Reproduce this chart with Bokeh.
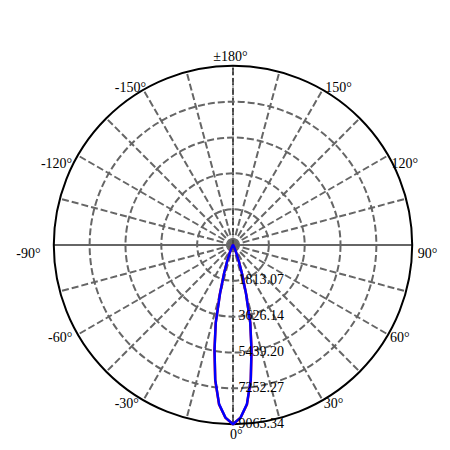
import numpy as np
from bokeh.plotting import figure
from bokeh.models import ColumnDataSource
from bokeh.core.properties import value
from bokeh.embed import file_html
from bokeh.resources import INLINE

# ---- data ----
beam_angles = [0, 2.5, 5, 7.5, 10, 12.5, 15, 17.5, 20, 22.5, 25, 30, 35, 40, 50, 60, 90, 120, 150, 180]
beam_c0 = [9065, 8750, 8100, 6900, 5400, 4050, 2550, 1500, 850, 450, 250, 100, 50, 30, 15, 10, 5, 3, 2, 2]
beam_c90 = [9065, 8740, 8080, 6880, 5380, 4030, 2530, 1490, 840, 440, 245, 100, 50, 30, 15, 10, 5, 3, 2, 2]
ring_values = [1813.07, 3626.14, 5439.20, 7252.27, 9065.34]
ring_labels = ["1813.07", "3626.14", "5439.20", "7252.27", "9065.34"]
label_angles = [0, 30, 60, 90, 120, 150, 180, -150, -120, -90, -60, -30]
label_texts = ["0°", "30°", "60°", "90°", "120°", "150°", "±180°", "-150°", "-120°", "-90°", "-60°", "-30°"]
spoke_angles = list(range(0, 360, 15))

# ---- layout ----
W = H = 446
R_PX = 179.2
CX, CY = 232.5, 244.5
RMAX = ring_values[-1]
s = RMAX / R_PX  # data units per pixel

p = figure(width=W, height=H, output_backend="svg", toolbar_location=None,
           x_range=(-CX * s, (W - CX) * s), y_range=(-(H - CY) * s, CY * s),
           x_axis_location=None, y_axis_location=None, min_border=0,
           background_fill_color="white", border_fill_color="white")
p.grid.visible = False
p.outline_line_color = None


def pol(theta_deg, r):
    t = np.radians(np.asarray(theta_deg, dtype=float))
    r = np.asarray(r, dtype=float)
    return r * np.sin(t), -r * np.cos(t)


# dashed spokes
xs, ys = [], []
for a in spoke_angles:
    if a in (90, 270):
        continue
    x1, y1 = pol(a, RMAX)
    xs.append([0, float(x1)])
    ys.append([0, float(y1)])
p.multi_line(xs, ys, line_color="#666666", line_width=2, line_dash="7 3")
# solid horizontal spoke
hx, hy = pol([-90, 90], [RMAX, RMAX])
p.line(hx, hy, line_color="#666666", line_width=2)
# thin black dashed vertical axis
vx, vy = pol([180, 0], [RMAX, RMAX])
p.line(vx, vy, line_color="black", line_width=1, line_dash="4 2", line_alpha=0.6)

# dashed rings
p.circle(x=[0] * 4, y=[0] * 4, radius=ring_values[:-1], fill_color=None,
         line_color="#666666", line_width=2, line_dash="7 3")
# outer ring
p.circle(x=[0], y=[0], radius=[RMAX], fill_color=None, line_color="black", line_width=2)

# beam curves (mirror)
def full(vals):
    ang = [-a for a in beam_angles[::-1]] + beam_angles[1:]
    v = vals[::-1] + vals[1:]
    return pol(ang, v)

rx, ry = full(beam_c0)
p.line(rx, ry, line_color="red", line_width=2.5)
bx, by = full(beam_c90)
p.line(bx, by, line_color="blue", line_width=2.5)

# angle labels
lx, ly = pol(label_angles, [RMAX] * len(label_angles))
xoff = [3.3, 10.9, 11.6, 15.3, 16.5, 15.9, -2.5, -12.9, -21.3, -25.3, -17.6, -16.6]
yoff = [10.5, 3.3, 2.6, 8.5, 7.8, -2.6, -9.3, -2.6, 7.8, 8.5, 2.6, 3.6]
src = ColumnDataSource(dict(x=lx, y=ly, t=label_texts, xo=xoff, yo=yoff))
p.text(x="x", y="y", text="t", x_offset="xo", y_offset="yo", source=src,
       text_align="center", text_baseline="middle", text_color="black",
       text_font=value("Liberation Serif"), text_font_size="14px")

# ring labels
rsrc = ColumnDataSource(dict(x=[0] * 5, y=[-v for v in ring_values], t=ring_labels))
p.text(x="x", y="y", text="t", source=rsrc, x_offset=5.5, y_offset=-1.5,
       text_align="left", text_baseline="middle", text_color="black",
       text_font=value("Liberation Serif"), text_font_size="14px")

open("out.html", "w").write(file_html(p, INLINE))
